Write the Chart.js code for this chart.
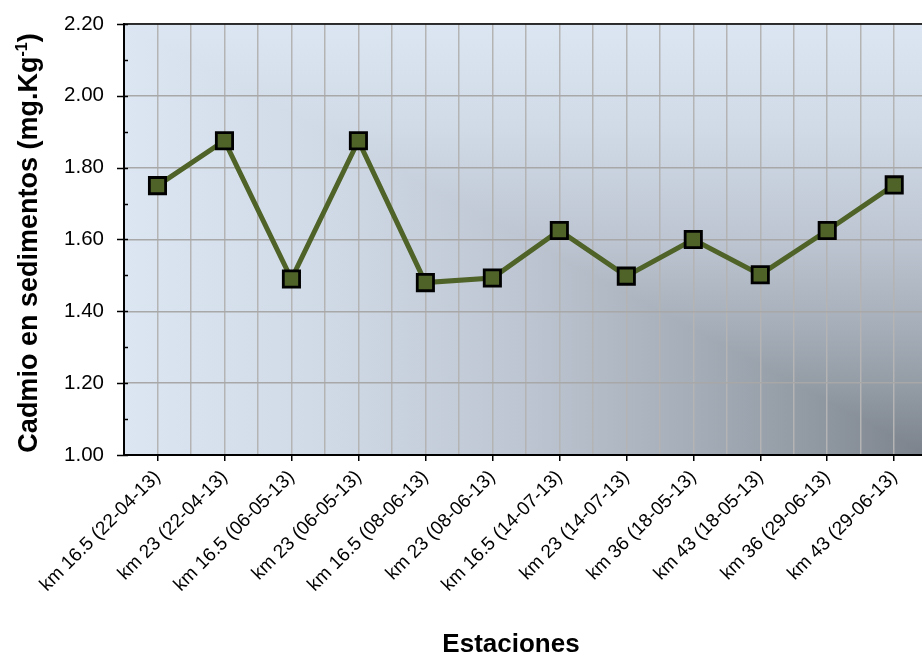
<!DOCTYPE html>
<html>
<head>
<meta charset="utf-8">
<script src="https://cdn.jsdelivr.net/npm/chart.js@4"></script>
<style>
    html, body { margin: 0; padding: 0; background: #fff; overflow: hidden; }
    #chart { display: block; }
</style>
</head>
<body>
<canvas id="chart" width="942" height="656"></canvas>
<script>
const estaciones = [
    'km 16.5 (22-04-13)', 'km 23 (22-04-13)', 'km 16.5 (06-05-13)', 'km 23 (06-05-13)',
    'km 16.5 (08-06-13)', 'km 23 (08-06-13)', 'km 16.5 (14-07-13)', 'km 23 (14-07-13)',
    'km 36 (18-05-13)', 'km 43 (18-05-13)', 'km 36 (29-06-13)', 'km 43 (29-06-13)'
];
const cadmio = [1.75, 1.875, 1.49, 1.875, 1.48, 1.493, 1.625, 1.498, 1.60, 1.502, 1.625, 1.752];
const yMin = 1.0;
const yMax = 2.2;
const yStep = 0.2;
const yTitle = 'Cadmio en sedimentos (mg.Kg';
const yTitleSup = '-1';
const xTitle = 'Estaciones';

const FONT = '"Liberation Sans", Arial, sans-serif';

// fondo degradado rectangular desde la esquina inferior derecha
const plotBackground = {
    id: 'plotBackground',
    beforeDraw(chart) {
        const { ctx, chartArea: a } = chart;
        const stops = [[0, '#7b828b'], [0.15, '#929aa4'], [0.3, '#a6aeb9'], [0.5, '#bcc5d1'], [0.75, '#d0dae6'], [1, '#dce6f2']];
        ctx.save();
        // todo el rectangulo: degradado horizontal
        let g = ctx.createLinearGradient(a.right, 0, a.left, 0);
        stops.forEach(s => g.addColorStop(s[0], s[1]));
        ctx.fillStyle = g;
        ctx.fillRect(a.left, a.top, a.right - a.left, a.bottom - a.top);
        // triangulo superior derecho: degradado vertical
        g = ctx.createLinearGradient(0, a.bottom, 0, a.top);
        stops.forEach(s => g.addColorStop(s[0], s[1]));
        ctx.beginPath();
        ctx.moveTo(a.left, a.top);
        ctx.lineTo(a.right, a.top);
        ctx.lineTo(a.right, a.bottom);
        ctx.closePath();
        ctx.fillStyle = g;
        ctx.fill();
        ctx.restore();
    }
};

// marcas del eje Y, borde superior y titulos
const axisExtras = {
    id: 'axisExtras',
    afterDraw(chart) {
        const { ctx, chartArea: a } = chart;
        const y = chart.scales.y;
        ctx.save();
        ctx.strokeStyle = '#000';
        ctx.lineWidth = 1.5;
        ctx.beginPath();
        for (let v = yMin; v <= yMax + 1e-9; v += yStep / 2) {
            const py = Math.round(y.getPixelForValue(v)) + 0.5;
            const major = Math.abs(Math.round(v / yStep) * yStep - v) < 1e-6;
            ctx.moveTo(major ? a.left - 7 : a.left, py);
            ctx.lineTo(a.left + 4, py);
        }
        ctx.moveTo(a.left, a.top);
        ctx.lineTo(a.right, a.top);
        ctx.stroke();

        ctx.fillStyle = '#000';
        // titulo eje Y con superindice
        const big = 'bold 27px ' + FONT;
        const small = 'bold 16px ' + FONT;
        ctx.font = big;
        const w1 = ctx.measureText(yTitle).width;
        const w3 = ctx.measureText(')').width;
        ctx.font = small;
        const w2 = ctx.measureText(yTitleSup).width;
        const total = w1 + w2 + w3;
        ctx.translate(37, 243);
        ctx.rotate(-Math.PI / 2);
        ctx.textBaseline = 'alphabetic';
        ctx.textAlign = 'left';
        const x0 = -total / 2;
        ctx.font = big;
        ctx.fillText(yTitle, x0, 0);
        ctx.font = small;
        ctx.fillText(yTitleSup, x0 + w1, -10);
        ctx.font = big;
        ctx.fillText(')', x0 + w1 + w2, 0);
        ctx.setTransform(1, 0, 0, 1, 0, 0);

        ctx.font = 'bold 26px ' + FONT;
        ctx.textAlign = 'center';
        ctx.textBaseline = 'alphabetic';
        ctx.fillText(xTitle, 511, 652);
        ctx.restore();
    }
};

const ctx = document.getElementById('chart').getContext('2d');
new Chart(ctx, {
    type: 'line',
    data: {
        labels: estaciones,
        datasets: [{
            data: cadmio,
            borderColor: '#4f6228',
            borderWidth: 5,
            tension: 0,
            pointStyle: 'rect',
            pointRadius: 11.5,
            pointHoverRadius: 11.5,
            pointBackgroundColor: '#4f6228',
            pointBorderColor: '#000',
            pointBorderWidth: 2.8,
        }],
    },
    options: {
        responsive: false,
        animation: false,
        layout: { padding: { top: 24, left: 0, right: 0, bottom: 0 } },
        plugins: {
            legend: { display: false },
            tooltip: { enabled: false },
        },
        scales: {
            x: {
                type: 'category',
                offset: true,
                grid: {
                    offset: false,
                    color: '#b4b4b4',
                    lineWidth: 1.5,
                    tickLength: 6,
                    tickColor: '#000',
                    tickWidth: 1.5,
                },
                border: { color: '#000', width: 2 },
                ticks: {
                    minRotation: 45,
                    maxRotation: 45,
                    autoSkip: false,
                    padding: 5,
                    color: '#000',
                    font: { family: FONT, size: 19 },
                },
                afterFit(scale) {
                    scale.height = 201;
                    scale.paddingLeft = 0;
                    scale.paddingRight = 0;
                },
            },
            xb: {
                type: 'category',
                position: 'bottom',
                offset: true,
                grid: {
                    offset: true,
                    color: '#b4b4b4',
                    lineWidth: 1.5,
                    drawTicks: false,
                },
                border: { display: false },
                ticks: { display: false },
                afterFit(scale) {
                    scale.height = 0;
                    scale.paddingLeft = 0;
                    scale.paddingRight = 0;
                },
            },
            y: {
                min: yMin,
                max: yMax,
                grid: {
                    color: '#a8a8a8',
                    lineWidth: 1.5,
                    drawTicks: false,
                },
                border: { color: '#000', width: 2 },
                ticks: {
                    stepSize: yStep,
                    padding: 20,
                    color: '#000',
                    font: { family: FONT, size: 20.5 },
                    callback: v => v.toFixed(2),
                },
                afterFit(scale) {
                    scale.width = 124;
                    scale.paddingTop = 0;
                    scale.paddingBottom = 0;
                },
            },
        },
    },
    plugins: [plotBackground, axisExtras],
});
</script>
</body>
</html>
